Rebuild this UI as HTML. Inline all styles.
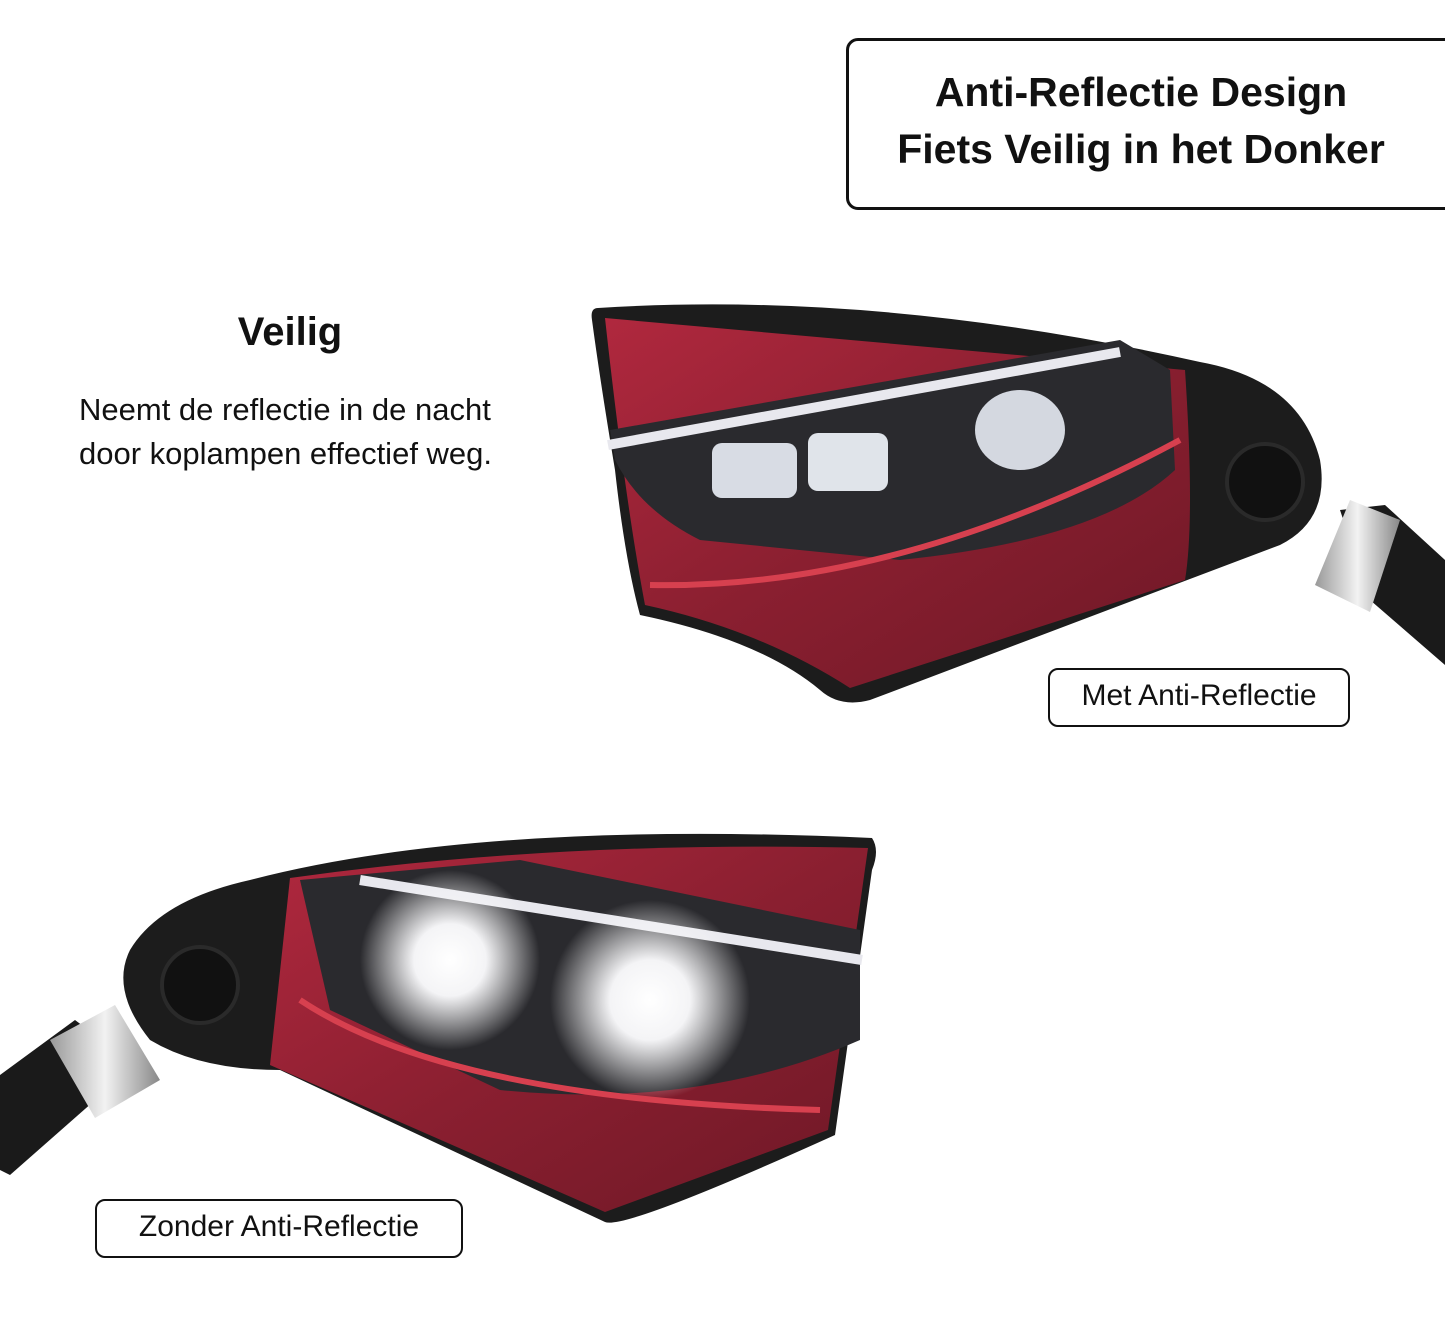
<!DOCTYPE html>
<html><head><meta charset="utf-8"><style>
body{margin:0;width:1445px;height:1329px;background:#fff;position:relative;overflow:hidden;font-family:"Liberation Sans",sans-serif;}
.box{position:absolute;border:3px solid #111;border-radius:12px;background:#fff;}
.t{position:absolute;color:#111;}
</style></head><body>
<svg width="1445" height="1329" style="position:absolute;left:0;top:0">
<defs>
<linearGradient id="red" x1="0" y1="0" x2="1" y2="1"><stop offset="0" stop-color="#b0283e"/><stop offset="0.5" stop-color="#8a1f30"/><stop offset="1" stop-color="#6e1826"/></linearGradient>
<linearGradient id="sil" x1="0" y1="0" x2="1" y2="0"><stop offset="0" stop-color="#999"/><stop offset="0.5" stop-color="#f2f2f2"/><stop offset="1" stop-color="#888"/></linearGradient>
<radialGradient id="glow"><stop offset="0" stop-color="#fff"/><stop offset="0.4" stop-color="#f4f4f6"/><stop offset="1" stop-color="#fff" stop-opacity="0"/></radialGradient>
</defs>
<polygon points="1340,510 1385,505 1445,560 1445,665 1370,600" fill="#1a1a1a"/>
<polygon points="1350,500 1400,520 1370,612 1315,585" fill="url(#sil)"/>
<path d="M598,308 Q880,290 1200,362 Q1300,380 1320,460 Q1330,520 1280,545 L870,700 Q840,708 820,690 Q760,640 640,615 Q625,560 615,470 Q600,380 592,320 Q590,308 598,308 Z" fill="#1c1c1c"/>
<circle cx="1265" cy="482" r="38" fill="#111" stroke="#2a2a2a" stroke-width="4"/>
<path d="M605,318 L1185,370 Q1195,520 1185,580 L850,688 Q760,630 645,605 Q625,500 605,318 Z" fill="url(#red)"/>
<path d="M610,430 L1120,340 L1170,370 L1175,470 Q1100,540 900,560 L700,540 Q640,510 615,460 Z" fill="#2a2a2e"/>
<path d="M608,445 L1120,352" stroke="#e8e8ee" stroke-width="10"/>
<rect x="712" y="443" width="85" height="55" rx="10" fill="#d8dce4"/>
<rect x="808" y="433" width="80" height="58" rx="10" fill="#e0e4ea"/>
<ellipse cx="1020" cy="430" rx="45" ry="40" fill="#d4d8e0"/>
<path d="M650,585 Q900,590 1180,440" stroke="#d7404f" stroke-width="6" fill="none"/>
<polygon points="0,1075 75,1020 135,1065 10,1175 0,1170" fill="#1a1a1a"/>
<polygon points="50,1040 115,1005 160,1080 95,1118" fill="url(#sil)"/>
<path d="M872,838 Q880,850 872,870 L835,1135 Q625,1230 605,1222 L280,1070 Q200,1070 150,1040 Q110,990 130,950 Q160,900 250,880 Q480,820 872,838 Z" fill="#1c1c1c"/>
<circle cx="200" cy="985" r="38" fill="#111" stroke="#2a2a2a" stroke-width="4"/>
<path d="M290,878 Q560,840 868,848 L828,1130 L605,1212 L270,1065 Z" fill="url(#red)"/>
<path d="M300,880 L520,860 L860,930 L860,1040 Q700,1110 500,1090 L330,1010 Z" fill="#2a2a2e"/>
<path d="M360,880 L862,960" stroke="#e8e8ee" stroke-width="10"/>
<circle cx="450" cy="960" r="90" fill="url(#glow)"/>
<circle cx="650" cy="1000" r="100" fill="url(#glow)"/>
<path d="M300,1000 Q450,1100 820,1110" stroke="#d7404f" stroke-width="6" fill="none"/>
</svg>
<div class="box" style="left:846px;top:38px;width:620px;height:166px;"></div>
<div class="t" style="left:846px;width:590px;top:64px;text-align:center;font-weight:bold;font-size:41px;line-height:57px;">Anti-Reflectie Design<br>Fiets Veilig in het Donker</div>
<div class="t" style="left:190px;width:200px;top:310px;text-align:center;font-weight:bold;font-size:40px;">Veilig</div>
<div class="t" style="left:79px;top:388px;font-size:31px;line-height:44px;">Neemt de reflectie in de nacht<br>door koplampen effectief weg.</div>
<div class="box" style="left:1048px;top:668px;width:298px;height:55px;border-width:2px;border-radius:10px;"></div>
<div class="t" style="left:1048px;width:302px;top:679px;text-align:center;font-size:30px;">Met Anti-Reflectie</div>
<div class="box" style="left:95px;top:1199px;width:364px;height:55px;border-width:2px;border-radius:10px;"></div>
<div class="t" style="left:95px;width:368px;top:1210px;text-align:center;font-size:30px;">Zonder Anti-Reflectie</div>
</body></html>
